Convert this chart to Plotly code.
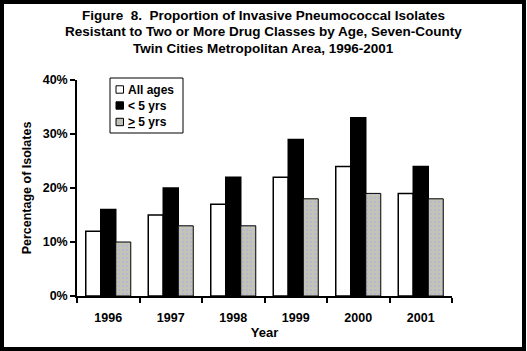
import plotly.graph_objects as go

years = ["1996", "1997", "1998", "1999", "2000", "2001"]
all_ages = [12, 15, 17, 22, 24, 19]
under5 = [16, 20, 22, 29, 33, 24]
over5 = [10, 13, 13, 18, 19, 18]
series_names = ["All ages", "< 5 yrs", "<u>></u> 5 yrs"]
y_ticks = [0, 10, 20, 30, 40]
y_tick_labels = ["0%", "10%", "20%", "30%", "40%"]

FONT = "Liberation Sans, Arial, sans-serif"

W, H = 527, 351
L, R, T, B = 77, 75, 80, 55
pw, ph = W - L - R, H - T - B


def px_x(p):
    return (p - L) / pw


def px_y(p):
    return (H - B - p) / ph


styles = [
    dict(color="white", line=dict(color="black", width=1.5)),
    dict(color="black", line=dict(color="black", width=1.5)),
    dict(color="#bdbdb0", line=dict(color="black", width=1),
         pattern=dict(shape=".", fgcolor="#aaaaf0", bgcolor="#c4c4b4", size=4, solidity=0.35)),
]

fig = go.Figure()
for name, vals, st in zip(series_names, [all_ages, under5, over5], styles):
    fig.add_trace(go.Bar(x=years, y=vals, name=name, marker=st, showlegend=False))

fig.update_layout(
    width=W, height=H,
    margin=dict(l=L, r=R, t=T, b=B),
    paper_bgcolor="white", plot_bgcolor="white",
    barmode="group", bargap=0.28, bargroupgap=0,
    font=dict(family=FONT, size=11, color="black"),
)

title_lines = [
    "Figure  8.  Proportion of Invasive Pneumococcal Isolates",
    "Resistant to Two or More Drug Classes by Age, Seven-County",
    "Twin Cities Metropolitan Area, 1996-2001",
]
for i, line in enumerate(title_lines):
    fig.add_annotation(text="<b>" + line + "</b>", xref="paper", yref="paper",
                       x=px_x(263), y=px_y(15 + 17 * i), xanchor="center", yanchor="middle",
                       showarrow=False, font=dict(family=FONT, size=13.5, color="black"))

# legend (manual, text + swatches)
fig.add_shape(type="rect", xref="paper", yref="paper",
              x0=px_x(110), x1=px_x(183), y0=px_y(133), y1=px_y(78),
              line=dict(color="black", width=1), fillcolor="white", layer="above")
row_y = [89.5, 105.5, 122]
swatch_fill = ["white", "black", "#c0c0b8"]
for name, fill, ry in zip(series_names, swatch_fill, row_y):
    fig.add_shape(type="rect", xref="paper", yref="paper",
                  x0=px_x(116), x1=px_x(123.5), y0=px_y(ry + 3.7), y1=px_y(ry - 3.7),
                  line=dict(color="black", width=1), fillcolor=fill, layer="above")
    fig.add_annotation(text="<b>" + name + "</b>", xref="paper", yref="paper",
                       x=px_x(125.5), y=px_y(ry), xanchor="left", yanchor="middle",
                       showarrow=False, font=dict(family=FONT, size=12, color="black"))

fig.update_xaxes(
    showline=True, linecolor="black", linewidth=1.5,
    ticks="outside", tickson="boundaries", ticklen=5, tickcolor="black", tickwidth=1.5,
    ticklabelstandoff=9,
    tickfont=dict(family=FONT, size=12.5, color="black", weight="bold"),
    title=dict(text="<b>Year</b>", font=dict(family=FONT, size=13, color="black"), standoff=4),
    showgrid=False,
)
fig.update_yaxes(
    range=[0, 40], tickvals=y_ticks, ticktext=y_tick_labels,
    showline=True, linecolor="black", linewidth=1.5,
    ticks="outside", ticklen=5, tickcolor="black", tickwidth=1.5,
    tickfont=dict(family=FONT, size=12.5, color="black", weight="bold"),
    title=dict(text="<b>Percentage of Isolates</b>", font=dict(family=FONT, size=12.5, color="black"), standoff=8),
    showgrid=False, zeroline=False,
)
# outer frame
fig.add_shape(type="rect", xref="paper", yref="paper",
              x0=px_x(2), x1=px_x(W - 3), y0=px_y(H - 2), y1=px_y(2),
              line=dict(color="black", width=4), fillcolor="rgba(0,0,0,0)", layer="above")

fig.write_html("out.html", config={"displayModeBar": False})
